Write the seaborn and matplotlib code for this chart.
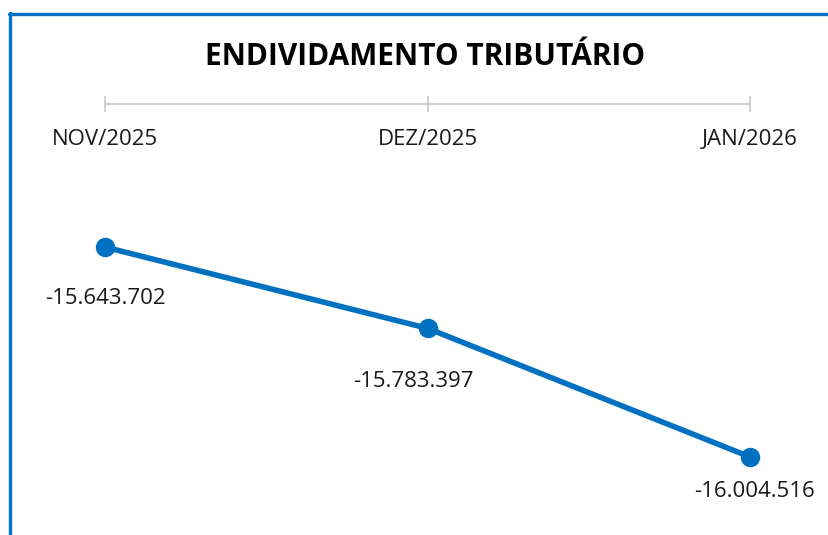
import matplotlib
matplotlib.use("Agg")
import matplotlib.pyplot as plt
import seaborn as sns
import pandas as pd
from matplotlib.lines import Line2D

# data
months = ["NOV/2025", "DEZ/2025", "JAN/2026"]
values = [-15643702, -15783397, -16004516]
labels = ["-15.643.702", "-15.783.397", "-16.004.516"]

df = pd.DataFrame({"mes": months, "valor": values})

sns.set_theme(style="white")
plt.rcParams["font.family"] = ["Open Sans", "DejaVu Sans"]

blue = "#0070C0"
fig = plt.figure(figsize=(8.29, 5.35), dpi=100)
ax = fig.add_axes([0.1267, 0.028, 0.778, 0.7776])

sns.lineplot(data=df, x="mes", y="valor", sort=False, color=blue,
             linewidth=4.0, marker="o", markersize=14,
             markeredgewidth=0, ax=ax, clip_on=False)

ax.set_xlim(0, 2)
ax.set_ylim(-16113000, -15397700)

# value labels under each point
offsets = [(0, -37), (-10, -38), (3, -25)]
for i, (lab, off) in enumerate(zip(labels, offsets)):
    ax.annotate(lab, (i, values[i]), xytext=off, textcoords="offset points",
                ha="center", va="center", fontsize=16, color="#1a1a1a")

# category axis on top, labels hanging below the line
ax.xaxis.tick_top()
ax.set_xlabel("")
ax.set_ylabel("")
ax.set_yticks([])
for s in ["left", "right", "bottom"]:
    ax.spines[s].set_visible(False)
ax.spines["top"].set_color("#C8C8C8")
ax.spines["top"].set_linewidth(1.2)
ax.tick_params(axis="x", top=True, bottom=False, direction="inout",
               length=12, width=1.2, color="#C8C8C8", pad=-39,
               labelsize=16, labelcolor="#1a1a1a")
ax.patch.set_alpha(0)

fig.text(0.513, 0.893, "ENDIVIDAMENTO TRIBUTÁRIO", ha="center", va="center",
         fontsize=21.5, fontweight="bold", color="#000000")

# blue frame on the top and left edges
fig.add_artist(Line2D([0.0105, 1.0], [0.974, 0.974], color=blue, linewidth=2.4,
                      transform=fig.transFigure))
fig.add_artist(Line2D([0.0115, 0.0115], [0.0, 0.975], color=blue, linewidth=2.4,
                      transform=fig.transFigure))

fig.savefig("out.png", dpi=100)
